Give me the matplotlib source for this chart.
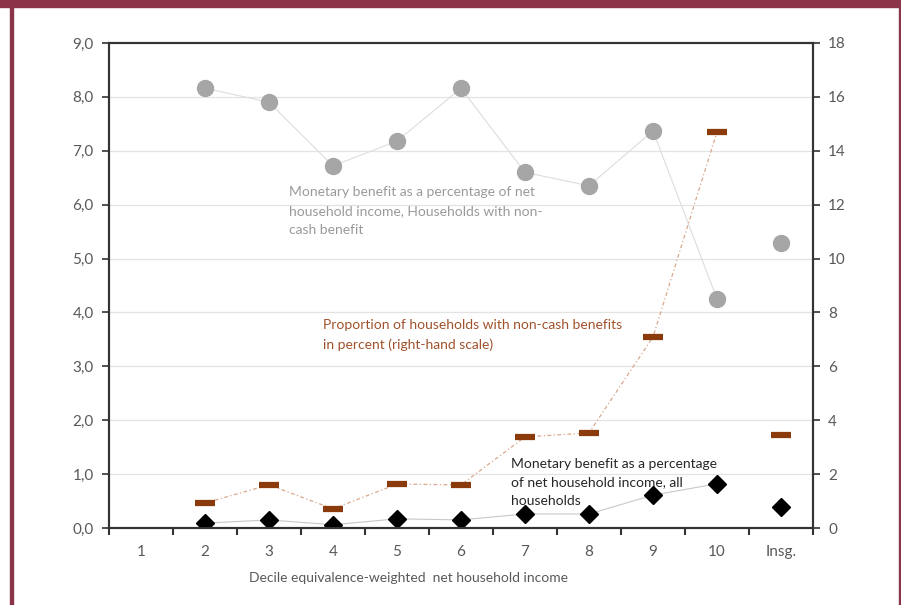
import matplotlib
matplotlib.use("Agg")
import matplotlib.pyplot as plt
from matplotlib.patches import Rectangle
import numpy as np

plt.rcParams['font.family'] = ['Lato', 'DejaVu Sans']

# data
categories = ["1", "2", "3", "4", "5", "6", "7", "8", "9", "10", "Insg."]
share_cash_benefit_hh = [np.nan, 8.16, 7.90, 6.72, 7.18, 8.16, 6.60, 6.35, 7.37, 4.25, 5.29]
share_hh_noncash = [np.nan, 0.93, 1.60, 0.71, 1.63, 1.60, 3.38, 3.53, 7.09, 14.70, 3.45]
share_all_hh = [np.nan, 0.09, 0.15, 0.06, 0.17, 0.15, 0.26, 0.26, 0.61, 0.82, 0.39]

left_ticks = np.arange(0, 9.1, 1.0)
right_ticks = np.arange(0, 19, 2)

MAROON = "#8B3449"
BROWN = "#8B3A0C"
TICKGREY = "#595959"

fig = plt.figure(figsize=(9.01, 6.05), dpi=100)
fig.patch.set_facecolor("white")

# frame around the chart
fig.patches.append(Rectangle((0, 1 - 7 / 605), 1, 7 / 605, transform=fig.transFigure, color=MAROON, zorder=0))
fig.patches.append(Rectangle((10 / 901, 0), 2.5 / 901, 1, transform=fig.transFigure, color=MAROON, zorder=0))
fig.patches.append(Rectangle((898.5 / 901, 0), 2.5 / 901, 1, transform=fig.transFigure, color=MAROON, zorder=0))

ax = fig.add_axes([109 / 901, 77 / 605, 704 / 901, 485 / 605])
ax2 = ax.twinx()

x = np.arange(len(categories))
n_line = len(categories) - 1  # "Insg." is not connected

# left axis series
ax.plot(x[:n_line], share_cash_benefit_hh[:n_line], color="#DDDDDD", lw=0.8, zorder=2)
ax.plot(x, share_cash_benefit_hh, ls="none", marker="o", ms=11.5, color="#A6A6A6", mec="#A6A6A6", zorder=3)
ax.plot(x[:n_line], share_all_hh[:n_line], color="#C8C8C8", lw=0.8, zorder=2)
ax.plot(x, share_all_hh, ls="none", marker="D", ms=9, color="black", zorder=4)

# right axis series
ax2.plot(x[:n_line], share_hh_noncash[:n_line], color="#D9A88C", lw=0.9,
         ls=(0, (3, 2, 1, 2)), zorder=2)
ax2.plot(x, share_hh_noncash, ls="none", marker="_", ms=15, mew=4.5, color=BROWN, zorder=3)

ax.set_xlim(-0.5, len(categories) - 0.5)
ax.set_ylim(0, 9)
ax2.set_ylim(0, 18)

ax.set_yticks(left_ticks)
ax.set_yticklabels([f"{v:.1f}".replace(".", ",") for v in left_ticks])
ax2.set_yticks(right_ticks)
ax2.set_yticklabels([f"{int(v)}" for v in right_ticks])

ax.set_xticks(x)
ax.set_xticklabels(categories)
ax.set_xticks(np.arange(-0.5, len(categories)), minor=True)
ax.tick_params(axis="x", which="major", length=0, pad=12, labelsize=11, labelcolor=TICKGREY)
ax.tick_params(axis="x", which="minor", length=5, width=1.5, color="#333333", direction="out")
ax.tick_params(axis="y", length=5, width=1.2, color="#333333", pad=6, labelsize=11, labelcolor=TICKGREY)
ax2.tick_params(axis="y", length=5, width=1.2, color="#333333", pad=6, labelsize=11, labelcolor=TICKGREY)

ax.grid(axis="y", color="#E3E3E3", lw=0.9)
ax.set_axisbelow(True)

for a in (ax, ax2):
    for s in a.spines.values():
        s.set_color("#333333")
        s.set_linewidth(1.5)

# annotations
note_kw = dict(transform=ax.transAxes, ha="left", va="top", fontsize=10, linespacing=1.68)
ax.text(0.256, 0.705, "Monetary benefit as a percentage of net\nhousehold income, Households with non-\ncash benefit",
        color="#9A9A9A", **note_kw)
ax.text(0.304, 0.430, "Proportion of households with non-cash benefits\nin percent (right-hand scale)",
        color="#A0522D", **note_kw)
ax.text(0.571, 0.145, "Monetary benefit as a percentage\nof net household income, all\nhouseholds",
        color="#262626", **note_kw)

fig.text(249 / 901, 1 - 578 / 605, "Decile equivalence-weighted  net household income",
         ha="left", va="center", fontsize=10, color=TICKGREY)

fig.savefig("out.png", dpi=100)
